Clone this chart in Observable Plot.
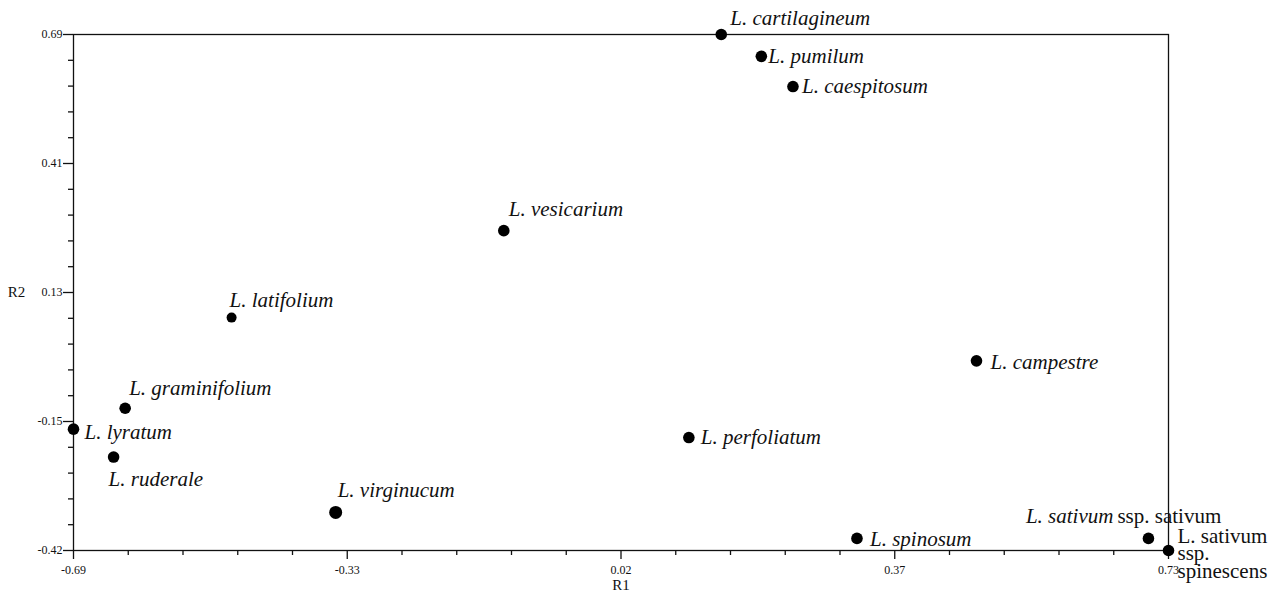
<!DOCTYPE html>
<html>
<head>
<meta charset="utf-8">
<script src="https://cdn.jsdelivr.net/npm/d3@7"></script>
<script src="https://cdn.jsdelivr.net/npm/@observablehq/plot@0.6"></script>
<style>
  html, body { margin: 0; padding: 0; background: #fff; }
  #chart svg { display: block; }
</style>
</head>
<body>
<div id="chart"></div>
<script>
// ---- data ----
const species = [
  "L. cartilagineum", "L. pumilum", "L. caespitosum", "L. vesicarium",
  "L. latifolium", "L. campestre", "L. graminifolium", "L. lyratum",
  "L. ruderale", "L. virginucum", "L. perfoliatum", "L. spinosum",
  "L. sativum ssp. sativum", "L. sativum ssp. spinescens"
];
const r1 = [0.150, 0.202, 0.243, -0.132, -0.485, 0.481, -0.623, -0.690, -0.638, -0.350, 0.108, 0.326, 0.704, 0.730];
const r2 = [0.690, 0.643, 0.578, 0.268, 0.081, -0.012, -0.114, -0.159, -0.219, -0.338, -0.177, -0.394, -0.394, -0.420];

const xTickValues = [-0.69, -0.335, 0.02, 0.375, 0.73];
const xTickLabels = ["-0.69", "-0.33", "0.02", "0.37", "0.73"];
const yTickValues = [-0.42, -0.1425, 0.135, 0.4125, 0.69];
const yTickLabels = ["-0.42", "-0.15", "0.13", "0.41", "0.69"];

// ---- layout (styles only) ----
const labelLayout = {
  "L. cartilagineum": {dx: 9, dy: -16},
  "L. pumilum": {dx: 7, dy: 0},
  "L. caespitosum": {dx: 9, dy: 0},
  "L. vesicarium": {dx: 5, dy: -21},
  "L. latifolium": {dx: -2, dy: -17},
  "L. campestre": {dx: 14, dy: 1},
  "L. graminifolium": {dx: 4, dy: -20},
  "L. lyratum": {dx: 11, dy: 3},
  "L. ruderale": {dx: -5, dy: 22},
  "L. virginucum": {dx: 2, dy: -22},
  "L. perfoliatum": {dx: 12, dy: 0},
  "L. spinosum": {dx: 13, dy: 1}
};
const dotRadius = name => name === "L. virginucum" ? 6.5 : (name === "L. latifolium" ? 5 : 5.8);

const points = species.map((s, i) => ({name: s, x: r1[i], y: r2[i]}));

function minorTicks(majors) {
  const out = [];
  for (let i = 0; i < majors.length - 1; i++) {
    const a = majors[i], b = majors[i + 1];
    for (let k = 1; k < 5; k++) out.push(a + (b - a) * k / 5);
  }
  return out;
}
const xLabelMap = new Map(xTickValues.map((v, i) => [v, xTickLabels[i]]));
const yLabelMap = new Map(yTickValues.map((v, i) => [v, yTickLabels[i]]));

const serif = "'Liberation Serif', 'Times New Roman', serif";
const FS = 21;

const labelMarks = points
  .filter(p => labelLayout[p.name])
  .map(p => {
    const L = labelLayout[p.name];
    return Plot.text([p], {
      x: "x", y: "y", text: "name", dx: L.dx, dy: L.dy,
      textAnchor: "start", fontStyle: "italic", fontSize: FS,
      fontFamily: serif, fill: "#111"
    });
  });

const sat = points.find(p => p.name === "L. sativum ssp. sativum");
const spin = points.find(p => p.name === "L. sativum ssp. spinescens");
const satParts = sat.name.split(" ssp. ");
const spinParts = spin.name.split(" ssp. ");

const chart = Plot.plot({
  width: 1281,
  height: 595,
  marginLeft: 73,
  marginRight: 113,
  marginTop: 34,
  marginBottom: 45,
  style: {fontFamily: serif, color: "#111", background: "#fff"},
  x: {domain: [-0.69, 0.73]},
  y: {domain: [-0.42, 0.69]},
  r: {type: "identity"},
  marks: [
    Plot.frame({stroke: "#111", strokeWidth: 1.3}),
    Plot.axisX({ticks: minorTicks(xTickValues), tickSize: 5, tickFormat: () => "", strokeWidth: 1.3, label: null}),
    Plot.axisX({ticks: xTickValues, tickSize: 9, tickPadding: 6, strokeWidth: 1.3,
      tickFormat: d => xLabelMap.get(d), fontSize: 12, fontFamily: serif, label: null}),
    Plot.axisY({ticks: minorTicks(yTickValues), tickSize: 5, tickFormat: () => "", strokeWidth: 1.3, label: null}),
    Plot.axisY({ticks: yTickValues, tickSize: 10, tickPadding: 1, strokeWidth: 1.3,
      tickFormat: d => yLabelMap.get(d), fontSize: 12, fontFamily: serif, label: null}),
    Plot.text(["R1"], {frameAnchor: "bottom", dy: 35, fontSize: 15, fontFamily: serif, fill: "#111", lineAnchor: "middle"}),
    Plot.text(["R2"], {frameAnchor: "left", dx: -57, textAnchor: "middle", fontSize: 15, fontFamily: serif, fill: "#111"}),
    Plot.dot(points, {x: "x", y: "y", r: d => dotRadius(d.name), fill: "#000", stroke: "none"}),
    ...labelMarks,
    Plot.text([sat], {x: "x", y: "y", text: () => satParts[0], dx: -35, dy: -22, textAnchor: "end",
      fontStyle: "italic", fontSize: FS, fontFamily: serif, fill: "#111"}),
    Plot.text([sat], {x: "x", y: "y", text: () => "ssp. " + satParts[1], dx: -31, dy: -22, textAnchor: "start",
      fontSize: FS, fontFamily: serif, fill: "#111"}),
    Plot.text([spin], {x: "x", y: "y", text: () => spinParts[0] + "\nssp.\n" + spinParts[1], dx: 9, dy: 4,
      textAnchor: "start", lineAnchor: "middle", lineHeight: 0.84, fontSize: FS, fontFamily: serif, fill: "#111"})
  ]
});
document.getElementById("chart").appendChild(chart);
</script>
</body>
</html>
